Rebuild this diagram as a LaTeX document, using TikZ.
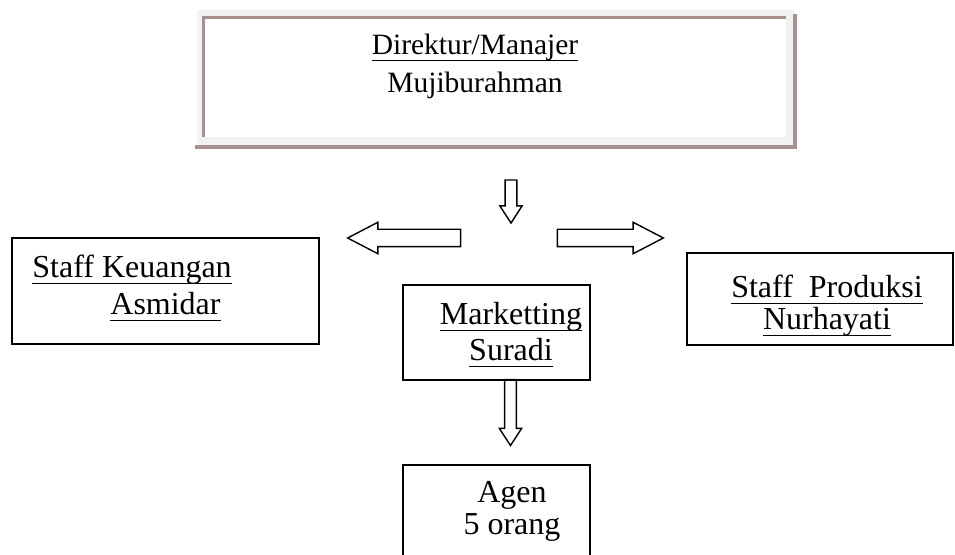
\documentclass[tikz,border=0pt]{standalone}
\usepackage{fontspec}
\setmainfont{Liberation Serif}
\usetikzlibrary{shapes.arrows}
\definecolor{frame}{HTML}{F2F2F2}
\definecolor{bevel}{HTML}{A89090}
\newcommand{\ulline}[1]{\setbox0\hbox{#1}\rlap{\rule[-3pt]{\wd0}{0.7pt}}\box0}

\begin{document}
\begin{tikzpicture}[x=0.5pt, y=-0.5pt,
    unit/.style={draw, line width=0.8pt, inner sep=0pt},
    title/.style={align=center, anchor=base, inner sep=0pt, font=\fontsize{16}{18.5}\selectfont},
    down/.style={draw, line width=0.7pt, single arrow, shape border rotate=270, inner sep=2.6pt, single arrow head extend=2.6pt, single arrow tip angle=66},
    side/.style={draw, line width=0.7pt, single arrow, inner sep=4pt, single arrow head extend=3.5pt, single arrow tip angle=55}
]
\useasboundingbox (0,0) rectangle (955,555);

% direktur, bevelled frame
\fill[frame] (197,10) rectangle (794,147);
\draw[bevel, line width=2pt] (195,147) -- (795,147) -- (795,14);
\node[fill=white, inner sep=0pt, minimum width=291pt, minimum height=59.5pt] (dir) at (495,77.5) {};
\draw[bevel, line width=1.5pt] (dir.south west) -- (dir.north west) -- (dir.north east);
\node[title, font=\fontsize{14.75}{19}\selectfont] (dirtext) at (475,93) {\ulline{Direktur/Manajer}\\Mujiburahman};

% staff boxes
\node[unit, minimum width=153.5pt, minimum height=53pt] (keu) at (165.5,291) {};
\node[title, align=left, anchor=base west] (keutext) at (32,315) {\ulline{Staff Keuangan}\\\hspace*{39pt}\ulline{Asmidar}};
\node[unit, minimum width=133pt, minimum height=46pt] (prod) at (820,299) {};
\node[title, font=\fontsize{16}{16}\selectfont] (prodtext) at (827,330) {\ulline{Staff\ \ Produksi}\\\ulline{Nurhayati}};

% marketting and agen
\node[unit, minimum width=93.5pt, minimum height=47.5pt] (mkt) at (496.5,332.5) {};
\node[title, font=\fontsize{16}{18}\selectfont] (mkttext) at (511,361) {\ulline{Marketting}\\\ulline{Suradi}};
\node[unit, minimum width=93.5pt, minimum height=67.5pt] (agen) at (496.5,532.5) {};
\node[title, font=\fontsize{16}{16}\selectfont] (agentext) at (512,535) {Agen\\5 orang};

% block arrows
\node[down, minimum height=21.5pt] (godown) at (511,197) {};
\node[side, shape border rotate=180, minimum height=56.5pt] (goleft) at (412.5,238) {};
\node[side, minimum height=53pt] (goright) at (602,238) {};
\node[down, minimum height=33pt] (toagen) at (510.5,408) {};
\end{tikzpicture}
\end{document}
